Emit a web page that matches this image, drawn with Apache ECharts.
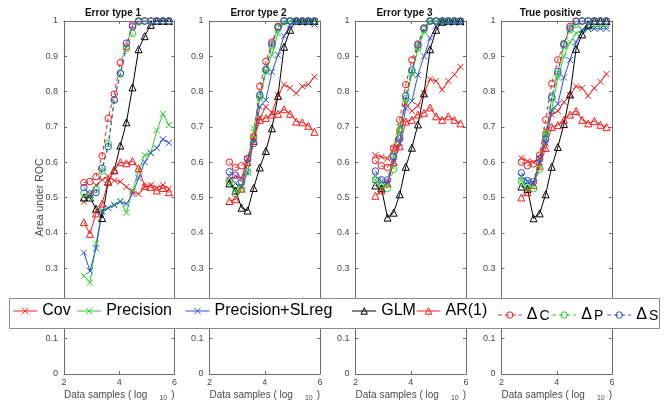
<!DOCTYPE html>
<html><head><meta charset="utf-8">
<script src="https://cdn.jsdelivr.net/npm/echarts@6/dist/echarts.min.js"></script>
<style>html,body{margin:0;padding:0;background:#fff}#c{width:669px;height:411px}</style>
</head><body><div id="c"></div>
<script>
// ---------------- data ----------------
const logSamples = [2.72, 2.94, 3.16, 3.38, 3.60, 3.82, 4.04, 4.26, 4.48, 4.70, 4.92, 5.14, 5.36, 5.58, 5.80];
const panelTitles = ['Error type 1', 'Error type 2', 'Error type 3', 'True positive'];
const seriesNames = ['Cov', 'Precision', 'Precision+SLreg', 'GLM', 'AR(1)', 'ΔC', 'ΔP', 'ΔS'];
const xTicks = [2, 4, 6];
const yTicks = [0, 0.1, 0.2, 0.3, 0.4, 0.5, 0.6, 0.7, 0.8, 0.9, 1];

const covAUC = [
  [0.488, 0.51, 0.535, 0.55, 0.56, 0.548, 0.545, 0.53, 0.516, 0.51, 0.53, 0.535, 0.528, 0.535, 0.525],
  [0.55, 0.56, 0.555, 0.61, 0.67, 0.725, 0.757, 0.74, 0.79, 0.82, 0.81, 0.795, 0.815, 0.82, 0.842],
  [0.62, 0.615, 0.61, 0.64, 0.70, 0.765, 0.745, 0.76, 0.795, 0.835, 0.83, 0.805, 0.83, 0.848, 0.87],
  [0.612, 0.603, 0.60, 0.61, 0.69, 0.735, 0.745, 0.77, 0.79, 0.815, 0.81, 0.788, 0.81, 0.828, 0.85]
];
const precisionAUC = [
  [0.278, 0.259, 0.37, 0.465, 0.47, 0.48, 0.49, 0.457, 0.52, 0.575, 0.62, 0.625, 0.69, 0.737, 0.705],
  [0.545, 0.525, 0.53, 0.60, 0.695, 0.78, 0.855, 0.905, 0.965, 0.995, 1, 1, 1, 1, 1],
  [0.55, 0.53, 0.54, 0.62, 0.70, 0.77, 0.85, 0.92, 0.97, 1, 1, 1, 1, 1, 1],
  [0.55, 0.53, 0.54, 0.60, 0.68, 0.75, 0.84, 0.90, 0.94, 0.965, 0.975, 0.98, 0.985, 0.985, 0.985]
];
const slregAUC = [
  [0.344, 0.292, 0.356, 0.46, 0.47, 0.478, 0.488, 0.482, 0.51, 0.555, 0.60, 0.627, 0.64, 0.665, 0.655],
  [0.56, 0.54, 0.53, 0.57, 0.66, 0.757, 0.776, 0.856, 0.903, 0.958, 0.99, 0.997, 0.995, 0.995, 0.99],
  [0.56, 0.545, 0.54, 0.60, 0.655, 0.753, 0.773, 0.847, 0.90, 0.951, 0.985, 0.995, 0.995, 0.995, 0.995],
  [0.56, 0.545, 0.54, 0.60, 0.655, 0.745, 0.765, 0.84, 0.89, 0.94, 0.975, 0.978, 0.978, 0.978, 0.978]
];
const glmAUC = [
  [0.50, 0.50, 0.468, 0.442, 0.545, 0.578, 0.647, 0.713, 0.812, 0.92, 0.957, 0.989, 1, 1, 1],
  [0.54, 0.52, 0.471, 0.463, 0.527, 0.585, 0.632, 0.696, 0.788, 0.927, 0.975, 1, 1, 1, 1],
  [0.534, 0.526, 0.443, 0.457, 0.509, 0.587, 0.641, 0.707, 0.795, 0.92, 0.975, 0.998, 1, 1, 1],
  [0.531, 0.524, 0.441, 0.455, 0.509, 0.587, 0.643, 0.708, 0.792, 0.921, 0.962, 0.99, 1, 1, 1]
];
const ar1AUC = [
  [0.43, 0.397, 0.455, 0.483, 0.545, 0.577, 0.60, 0.597, 0.603, 0.583, 0.532, 0.53, 0.52, 0.527, 0.515],
  [0.49, 0.495, 0.525, 0.60, 0.66, 0.72, 0.725, 0.735, 0.737, 0.75, 0.737, 0.715, 0.713, 0.703, 0.686],
  [0.505, 0.52, 0.54, 0.60, 0.645, 0.715, 0.72, 0.735, 0.74, 0.755, 0.73, 0.72, 0.73, 0.72, 0.71],
  [0.50, 0.515, 0.535, 0.59, 0.64, 0.70, 0.705, 0.72, 0.735, 0.745, 0.72, 0.71, 0.717, 0.706, 0.70]
];
const deltaCAUC = [
  [0.542, 0.545, 0.559, 0.618, 0.724, 0.793, 0.882, 0.927, 0.989, 1, 1, 1, 1, 1, 1],
  [0.60, 0.585, 0.59, 0.61, 0.672, 0.815, 0.885, 0.94, 0.985, 1, 1, 1, 1, 1, 1],
  [0.605, 0.59, 0.585, 0.64, 0.72, 0.82, 0.89, 0.935, 0.98, 1, 1, 1, 1, 1, 1],
  [0.60, 0.59, 0.595, 0.62, 0.72, 0.823, 0.89, 0.935, 0.985, 1, 1, 1, 1, 1, 1]
];
const deltaPAUC = [
  [0.512, 0.50, 0.523, 0.575, 0.653, 0.776, 0.85, 0.922, 0.965, 0.997, 1, 1, 1, 1, 1],
  [0.545, 0.51, 0.525, 0.573, 0.665, 0.785, 0.86, 0.93, 0.98, 1, 1, 1, 1, 1, 1],
  [0.55, 0.535, 0.526, 0.58, 0.69, 0.78, 0.855, 0.925, 0.975, 1, 1, 1, 1, 1, 1],
  [0.545, 0.53, 0.525, 0.58, 0.68, 0.78, 0.85, 0.93, 0.975, 0.99, 1, 1, 1, 1, 1]
];
const deltaSAUC = [
  [0.528, 0.51, 0.514, 0.583, 0.644, 0.776, 0.852, 0.937, 0.984, 1, 1, 1, 1, 1, 1],
  [0.573, 0.563, 0.545, 0.61, 0.653, 0.79, 0.863, 0.935, 0.983, 1, 1, 1, 1, 1, 1],
  [0.575, 0.55, 0.55, 0.616, 0.666, 0.788, 0.861, 0.932, 0.98, 1, 1, 1, 1, 1, 1],
  [0.57, 0.548, 0.545, 0.61, 0.665, 0.785, 0.857, 0.935, 0.98, 0.998, 1, 1, 1, 1, 1]
];

// ---------------- styling ----------------
const FONT = "'Liberation Sans', Arial, Helvetica, sans-serif";
const RED = '#ff1a1a', GREEN = '#2bd02b', BLUE = '#2d4fd6', BLACK = '#000000';
const AXIS = '#6e6e6e', LABEL = '#4a4a4a';
const X_PATH = 'path://M0,0L10,10M10,0L0,10';
const seriesValues = [covAUC, precisionAUC, slregAUC, glmAUC, ar1AUC, deltaCAUC, deltaPAUC, deltaSAUC];
const seriesStyle = [
  { color: RED, symbol: X_PATH, size: 6, dash: 'solid' },
  { color: GREEN, symbol: X_PATH, size: 6, dash: 'solid' },
  { color: BLUE, symbol: X_PATH, size: 6, dash: 'solid' },
  { color: BLACK, symbol: 'triangle', size: 7, dash: 'solid' },
  { color: RED, symbol: 'triangle', size: 7, dash: 'solid' },
  { color: RED, symbol: 'circle', size: 6.5, dash: [4, 3] },
  { color: GREEN, symbol: 'circle', size: 6.5, dash: [4, 3] },
  { color: BLUE, symbol: 'circle', size: 6.5, dash: [4, 3] }
];

const gridLeft = [64, 209.5, 355.5, 501.5];
const gridTop = 21, gridW = 110.5, gridH = 353;
const legendX = [12.7, 76.7, 185, 351.7, 416, 497.3, 551.7, 606.7];

const grids = [], xAxes = [], yAxes = [], series = [], titles = [];
panelTitles.forEach((t, p) => {
  grids.push({ left: gridLeft[p], top: gridTop, width: gridW, height: gridH, outerBoundsMode: 'none', containLabel: false });
  titles.push({ text: t, left: gridLeft[p] + 49, top: 8, textAlign: 'center', padding: 0,
    textStyle: { fontSize: 10, fontWeight: 'bold', color: '#111', fontFamily: FONT } });
  const common = { gridIndex: p, type: 'value', splitLine: { show: false },
    axisLine: { show: true, onZero: false, lineStyle: { color: AXIS, width: 1 } },
    axisTick: { show: true, inside: true, length: 3, lineStyle: { color: AXIS, width: 1 } } };
  xAxes.push(Object.assign({}, common, {
    position: 'bottom', min: xTicks[0], max: xTicks[xTicks.length - 1], interval: xTicks[1] - xTicks[0],
    axisLabel: { fontSize: 9, color: LABEL, margin: 4, fontFamily: FONT },
    name: '{a|Data samples ( log}{s|10}{b|)}', nameLocation: 'middle', nameGap: 16, nameMoveOverlap: false,
    nameTextStyle: { fontFamily: FONT, color: LABEL, rich: {
      a: { fontSize: 10, lineHeight: 12, verticalAlign: 'top', color: LABEL, fontFamily: FONT },
      s: { fontSize: 7, lineHeight: 8, verticalAlign: 'bottom', padding: [8, 4, 0, 12], color: LABEL, fontFamily: FONT },
      b: { fontSize: 10, lineHeight: 12, verticalAlign: 'top', color: LABEL, fontFamily: FONT }
    } }
  }));
  xAxes.push(Object.assign({}, common, {
    position: 'top', min: xTicks[0], max: xTicks[xTicks.length - 1], interval: xTicks[1] - xTicks[0],
    axisLabel: { show: false }
  }));
  yAxes.push(Object.assign({}, common, {
    position: 'left', min: yTicks[0], max: yTicks[yTicks.length - 1], interval: yTicks[1] - yTicks[0],
    axisLabel: { fontSize: 9, color: LABEL, margin: 6, fontFamily: FONT },
    name: p === 0 ? 'Area under ROC' : '', nameLocation: 'middle', nameGap: 18, nameMoveOverlap: false,
    nameTextStyle: { fontSize: 10.5, color: LABEL, fontFamily: FONT }
  }));
  yAxes.push(Object.assign({}, common, {
    position: 'right', min: yTicks[0], max: yTicks[yTicks.length - 1], interval: yTicks[1] - yTicks[0],
    axisLabel: { show: false }
  }));
  seriesNames.forEach((n, s) => {
    const st = seriesStyle[s];
    series.push({
      type: 'line', name: n, xAxisIndex: 2 * p, yAxisIndex: 2 * p,
      data: logSamples.map((x, k) => [x, seriesValues[s][p][k]]),
      symbol: st.symbol, symbolSize: st.size, showSymbol: true,
      lineStyle: { color: st.color, width: 1, type: st.dash },
      itemStyle: { color: 'transparent', borderColor: st.color, borderWidth: 1 },
      emphasis: { disabled: true }, silent: true, animation: false, z: 2
    });
  });
});

const legends = seriesNames.map((n, i) => ({
  data: [n], left: legendX[i], top: n.charAt(0) === 'Δ' ? 301 : 303,
  orient: 'horizontal', itemWidth: 24, itemHeight: 8, padding: 0, z: 10,
  selectedMode: false,
  itemStyle: { borderWidth: 1 },
  lineStyle: { width: 1 },
  formatter: name => name.charAt(0) === 'Δ' ? '{d|Δ}{s|' + name.slice(1) + '}' : name,
  textStyle: { fontSize: 16, color: '#000', fontFamily: FONT, rich: {
    d: { fontSize: 16, lineHeight: 16, verticalAlign: 'top', color: '#000', fontFamily: FONT },
    s: { fontSize: 14, lineHeight: 14, verticalAlign: 'bottom', padding: [8, 0, 0, 2], color: '#000', fontFamily: FONT }
  } }
}));

const chart = echarts.init(document.getElementById('c'), null, { renderer: 'canvas' });
chart.setOption({
  animation: false,
  backgroundColor: '#ffffff',
  textStyle: { fontFamily: FONT },
  title: titles,
  grid: grids,
  xAxis: xAxes,
  yAxis: yAxes,
  legend: legends,
  graphic: { elements: [{ type: 'rect', z: 5, silent: true,
    shape: { x: 9.5, y: 298.5, width: 650, height: 30 },
    style: { fill: '#ffffff', stroke: '#8c8c8c', lineWidth: 1 } }] },
  series: series
});
</script></body></html>
